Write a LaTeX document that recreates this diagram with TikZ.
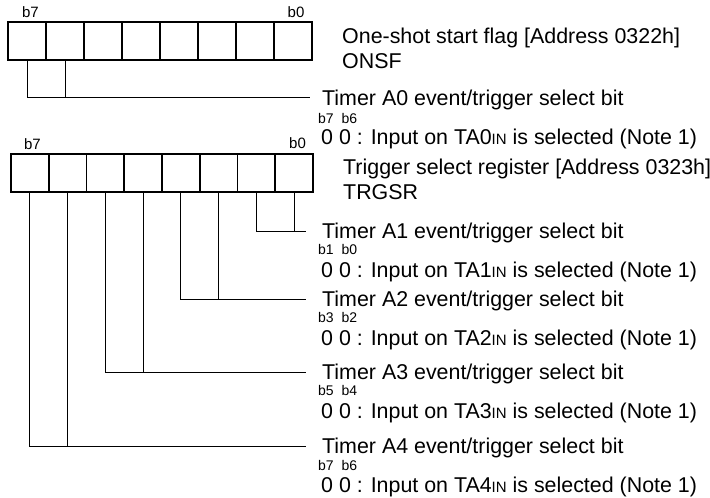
\documentclass[tikz,border=0pt]{standalone}
\usepackage{fontspec}
\setmainfont{Liberation Sans}
\begin{document}
\begin{tikzpicture}[x=1pt,y=-1pt,
  cell/.style={draw, line width=1.6pt, minimum width=38pt, minimum height=38pt, inner sep=0pt, outer sep=0pt},
  conn/.style={line width=0.9pt},
  bitlbl/.style={font=\fontsize{15}{15}\selectfont, inner sep=0pt, anchor=base},
  txt/.style={font=\fontsize{21.4}{21.4}\selectfont, inner sep=0pt, anchor=base west},
  small/.style={font=\fontsize{14}{14}\selectfont, inner sep=0pt, anchor=base west}]
\useasboundingbox (0,0) rectangle (710,498);
\newcommand{\subIN}{{\fontsize{15}{15}\selectfont IN}}
\newcommand{\bb}[2]{\makebox[23.5pt][l]{#1}#2}
% register 1
\foreach \i in {0,...,7}
  \node[cell] (ra\i) at ({8+38*(7-\i)+19}, 41) {};
\node[bitlbl] (ra7l) at (30.5,17) {b7};
\node[bitlbl] (ra0l) at (296,17) {b0};
\node[txt] (onsf1) at (342,43.5) {One-shot start flag [Address 0322h]};
\node[txt] (onsf2) at (342,68.5) {ONSF};
% register 2
\foreach \i in {0,...,7}
  \node[cell, minimum width=37.75pt] (rb\i) at ({11+37.75*(7-\i)+18.875}, 173) {};
\node[bitlbl] (rb7l) at (32.5,149) {b7};
\node[bitlbl] (rb0l) at (297.5,148) {b0};
\node[txt] (trg1) at (343,174.5) {Trigger select register [Address 0323h]};
\node[txt] (trg2) at (343,199.5) {TRGSR};
% bit descriptions
\coordinate (e0) at (310,97.5);
\node[txt] (ta0) at (322,105) {Timer A0 event/trigger select bit};
\node[small] (ta0b) at (318,123) {\bb{b7}{b6}};
\node[txt] (ta0v) at (321,144) {0 0 : Input on TA0\subIN{} is selected (Note 1)};
\coordinate (e1) at (306,231);
\node[txt] (ta1) at (322,238.5) {Timer A1 event/trigger select bit};
\node[small] (ta1b) at (318,254) {\bb{b1}{b0}};
\node[txt] (ta1v) at (321,277) {0 0 : Input on TA1\subIN{} is selected (Note 1)};
\coordinate (e2) at (306,299);
\node[txt] (ta2) at (322,306.5) {Timer A2 event/trigger select bit};
\node[small] (ta2b) at (318,322) {\bb{b3}{b2}};
\node[txt] (ta2v) at (321,345) {0 0 : Input on TA2\subIN{} is selected (Note 1)};
\coordinate (e3) at (306,372);
\node[txt] (ta3) at (322,379.5) {Timer A3 event/trigger select bit};
\node[small] (ta3b) at (318,395) {\bb{b5}{b4}};
\node[txt] (ta3v) at (321,418) {0 0 : Input on TA3\subIN{} is selected (Note 1)};
\coordinate (e4) at (306,446);
\node[txt] (ta4) at (322,453.5) {Timer A4 event/trigger select bit};
\node[small] (ta4b) at (318,470) {\bb{b7}{b6}};
\node[txt] (ta4v) at (321,492) {0 0 : Input on TA4\subIN{} is selected (Note 1)};
% connectors
\draw[conn] (ra7.south) |- (e0);
\draw[conn] (ra6.south) -- (ra6.south |- e0);
\draw[conn] (rb1.south) |- (e1);
\draw[conn] (rb0.south) -- (rb0.south |- e1);
\draw[conn] (rb3.south) |- (e2);
\draw[conn] (rb2.south) -- (rb2.south |- e2);
\draw[conn] (rb5.south) |- (e3);
\draw[conn] (rb4.south) -- (rb4.south |- e3);
\draw[conn] (rb7.south) |- (e4);
\draw[conn] (rb6.south) -- (rb6.south |- e4);
\end{tikzpicture}
\end{document}
